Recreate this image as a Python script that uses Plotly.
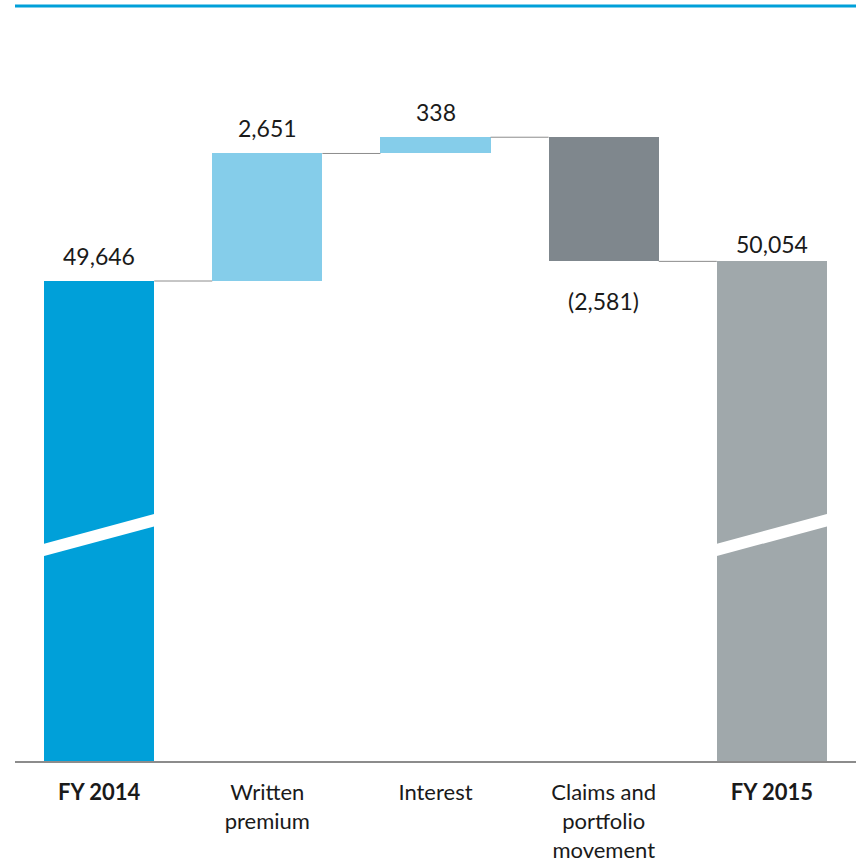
import plotly.graph_objects as go

# Waterfall: opening balance, movements, closing balance
categories = ["FY 2014", "Written premium", "Interest", "Claims and portfolio movement", "FY 2015"]
tick_labels = ["<b>FY 2014</b>", "Written<br>premium", "Interest",
               "Claims and<br>portfolio<br>movement", "<b>FY 2015</b>"]
opening = 49646
movements = [2651, 338, -2581]
closing = 50054

bar_colors = ["#00A0D9", "#85CDEA", "#85CDEA", "#7F878D", "#A0A8AB"]

# running totals for the floating bars
bases = [0]
heights = [opening]
level = opening
for m in movements:
    bases.append(level)
    heights.append(m)
    level += m
bases.append(0)
heights.append(closing)

xs = list(range(len(categories)))
bar_w = 0.655

fig = go.Figure()
fig.add_trace(go.Bar(
    x=xs, y=heights, base=bases, width=bar_w,
    marker=dict(color=bar_colors, line=dict(width=0)),
    hoverinfo="skip", showlegend=False,
))

# connector lines between consecutive bars at the running level
levels = [opening]
lv = opening
for m in movements:
    lv += m
    levels.append(lv)
for i, lvl in enumerate(levels):
    fig.add_trace(go.Scatter(
        x=[xs[i] + bar_w / 2, xs[i + 1] - bar_w / 2], y=[lvl, lvl],
        mode="lines", line=dict(color="#8C8C8C", width=1),
        hoverinfo="skip", showlegend=False,
    ))

# value labels
def fmt(v):
    return f"({abs(v):,})" if v < 0 else f"{v:,}"

label_vals = [opening] + movements + [closing]
label_shift = [9, 9, 9, -24, 1]
ends = [b + h for b, h in zip(bases, heights)]
for i, (v, e) in enumerate(zip(label_vals, ends)):
    neg = v < 0
    fig.add_annotation(
        x=xs[i], y=e, xref="x", yref="y",
        text=fmt(v), showarrow=False,
        yanchor="top" if neg else "bottom",
        yshift=label_shift[i],
        font=dict(family="Lato", size=23, color="#1A1A1A"),
    )

# axis-break marks on the two total bars
for i in (0, len(xs) - 1):
    x0, x1 = xs[i] - 0.36, xs[i] + 0.36
    fig.add_shape(
        type="path", xref="x", yref="paper",
        path=(f"M {x0} 0.2695 L {x1} 0.3127 L {x1} 0.3290 "
              f"L {x0} 0.2858 Z"),
        fillcolor="white", line=dict(width=0), layer="above",
    )

# rule across the top
fig.add_shape(type="line", xref="paper", yref="paper", x0=0, x1=1, y0=1, y1=1,
              line=dict(color="#00A0D9", width=3))

fig.update_layout(
    width=856, height=862,
    margin=dict(l=15, r=0, t=6, b=101),
    paper_bgcolor="white", plot_bgcolor="white",
    bargap=0,
    xaxis=dict(
        range=[-0.5, 4.5], tickvals=xs, ticktext=tick_labels,
        showgrid=False, zeroline=False, showline=True,
        linecolor="#8C8C8C", linewidth=2, ticks="",
        ticklabelstandoff=11,
        tickfont=dict(family="Lato", size=22, color="#1A1A1A"),
    ),
    yaxis=dict(
        range=[39667, 55363], visible=False, showgrid=False, zeroline=False,
    ),
    font=dict(family="Lato"),
)

fig.write_html("out.html")
